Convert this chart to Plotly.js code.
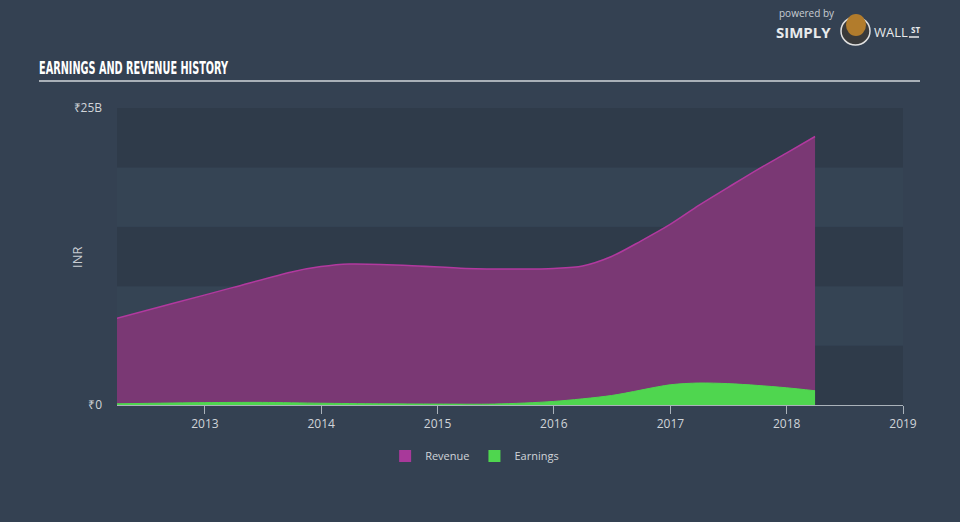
<!DOCTYPE html>
<html>
<head>
<meta charset="utf-8">
<script src="https://cdn.plot.ly/plotly-3.0.1.min.js"></script>
<style>
html,body{margin:0;padding:0;background:#344152;}
#chart{width:960px;height:522px;}
</style>
</head>
<body>
<div id="chart"></div>
<script>
// Data (values in INR)
const revenueDates = ['2012-03-31','2012-09-30','2013-03-31','2013-09-30','2013-12-31','2014-03-31','2014-09-30','2015-03-31','2015-09-30','2015-12-31','2016-03-31','2016-06-30','2016-09-30','2016-12-31','2017-03-31','2017-06-30','2017-09-30','2017-12-31','2018-03-31'];
const revenueValues = [7.3e9, 8.6e9, 9.9e9, 11.2e9, 11.65e9, 11.87e9, 11.75e9, 11.5e9, 11.45e9, 11.5e9, 11.7e9, 12.5e9, 13.8e9, 15.2e9, 16.8e9, 18.3e9, 19.8e9, 21.2e9, 22.6e9];
const earningsDates = ['2012-03-31','2012-12-31','2013-06-30','2013-12-31','2014-06-30','2014-12-31','2015-06-30','2015-12-31','2016-06-30','2016-12-31','2017-03-31','2017-06-30','2017-09-30','2017-12-31','2018-03-31'];
const earningsValues = [0.1e9, 0.2e9, 0.22e9, 0.15e9, 0.1e9, 0.08e9, 0.08e9, 0.3e9, 0.8e9, 1.7e9, 1.85e9, 1.8e9, 1.65e9, 1.45e9, 1.2e9];
const seriesNames = ['Revenue', 'Earnings'];
const yTickVals = [0, 25e9];
const yTickText = ['₹0', '₹25B'];
const xTickVals = ['2013-01-01','2014-01-01','2015-01-01','2016-01-01','2017-01-01','2018-01-01','2019-01-01'];
const xTickText = ['2013','2014','2015','2016','2017','2018','2019'];

const revColor = '#b2399f', revFill = '#7a3874', earnColor = '#4fd64f';

const traces = [
  {x: revenueDates, y: revenueValues, name: seriesNames[0], type: 'scatter', mode: 'lines', showlegend: false,
   line: {color: revColor, width: 1.5, shape: 'spline', smoothing: 0.8},
   fill: 'tozeroy', fillcolor: revFill, hoverinfo: 'skip'},
  {x: earningsDates, y: earningsValues, name: seriesNames[1], type: 'scatter', mode: 'lines', showlegend: false,
   line: {color: earnColor, width: 1, shape: 'spline', smoothing: 0.8},
   fill: 'tozeroy', fillcolor: earnColor, hoverinfo: 'skip'},
  // legend swatches (square keys as in the reference)
  {x: [revenueDates[0]], y: [0], name: seriesNames[0], type: 'bar', marker: {color: '#a8399a', line: {width: 0}}, hoverinfo: 'skip'},
  {x: [earningsDates[0]], y: [0], name: seriesNames[1], type: 'bar', marker: {color: earnColor, line: {width: 0}}, hoverinfo: 'skip'}
];

const shapes = [];
for (let i = 0; i < 5; i++) {
  shapes.push({type: 'rect', xref: 'paper', yref: 'y', x0: 0, x1: 1,
    y0: i * 5e9, y1: (i + 1) * 5e9, line: {width: 0}, layer: 'below',
    fillcolor: (i % 2 === 0) ? '#2f3b4a' : '#354454'});
}
const L = 117, W = 786, B = 405, H = 297;
const px = v => (v - L) / W;
const py = v => (B - v) / H;
shapes.push({type: 'line', xref: 'paper', yref: 'paper', x0: px(39), x1: px(920), y0: py(81), y1: py(81),
  line: {color: '#a9b0b8', width: 2}});
// logo emblem
shapes.push({type: 'circle', xref: 'paper', yref: 'paper', x0: px(841), x1: px(870), y0: py(45), y1: py(17),
  fillcolor: '#3a3a3a', line: {color: '#e0e0e0', width: 1.5}});
shapes.push({type: 'circle', xref: 'paper', yref: 'paper', x0: px(846), x1: px(866), y0: py(36), y1: py(14),
  fillcolor: '#b27c2c', line: {width: 0}});
shapes.push({type: 'line', xref: 'paper', yref: 'paper', x0: px(909), x1: px(919), y0: py(37), y1: py(37),
  line: {color: '#e8eaec', width: 1.5}});

const layout = {
  width: 960, height: 522,
  paper_bgcolor: '#344152', plot_bgcolor: 'rgba(0,0,0,0)',
  margin: {l: 117, r: 57, t: 108, b: 117},
  font: {family: 'Open Sans, sans-serif', color: '#d0d4d9', size: 12},
  title: {text: 'EARNINGS AND REVENUE HISTORY', xref: 'container', yref: 'container',
    x: 39 / 960, xanchor: 'left', y: 1 - 68 / 522, yanchor: 'middle',
    font: {family: 'DejaVu Sans Condensed, sans-serif', size: 17, color: '#ffffff', weight: 'bold'}},
  showlegend: true,
  legend: {orientation: 'h', x: 0.455, xanchor: 'center', y: py(456), yanchor: 'middle',
    font: {size: 11, color: '#d0d4d9'}, traceorder: 'normal', itemwidth: 30},
  barmode: 'overlay',
  xaxis: {type: 'date', range: ['2012-03-31', '2019-01-01'], tickvals: xTickVals, ticktext: xTickText,
    showgrid: false, zeroline: false, showline: true, linecolor: '#aab2ba', linewidth: 1,
    ticks: 'outside', ticklen: 8, tickcolor: '#aab2ba', tickfont: {size: 12, color: '#d0d4d9'}, fixedrange: true},
  yaxis: {range: [0, 25e9], tickvals: yTickVals, ticktext: yTickText, showgrid: false, zeroline: false,
    showline: false, ticks: '', ticklabelstandoff: 14, tickfont: {size: 12, color: '#d0d4d9'}, fixedrange: true},
  shapes: shapes,
  annotations: [
    {text: 'INR', xref: 'paper', yref: 'paper', x: px(77), y: py(258), textangle: -90,
      xanchor: 'center', yanchor: 'middle', showarrow: false, font: {size: 13, color: '#c8cdd3'}},
    {text: 'powered by', xref: 'paper', yref: 'paper', x: px(777), y: py(13),
      xanchor: 'left', yanchor: 'middle', showarrow: false, font: {size: 10, color: '#c8cdd3'}},
    {text: '<b>SIMPLY</b>', xref: 'paper', yref: 'paper', x: px(774), y: py(32),
      xanchor: 'left', yanchor: 'middle', showarrow: false, font: {size: 15, color: '#e8eaec'}},
    {text: 'WALL', xref: 'paper', yref: 'paper', x: px(872), y: py(32),
      xanchor: 'left', yanchor: 'middle', showarrow: false, font: {size: 13, color: '#e8eaec'}},
    {text: '<b>ST</b>', xref: 'paper', yref: 'paper', x: px(909), y: py(29),
      xanchor: 'left', yanchor: 'middle', showarrow: false, font: {size: 8, color: '#e8eaec'}}
  ]
};

Plotly.newPlot('chart', traces, layout, {displayModeBar: false, staticPlot: true}).then(function (gd) {
  const t = gd.querySelector('.gtitle');
  if (t) { t.setAttribute('textLength', '189'); t.setAttribute('lengthAdjust', 'spacingAndGlyphs'); }
});
</script>
</body>
</html>
